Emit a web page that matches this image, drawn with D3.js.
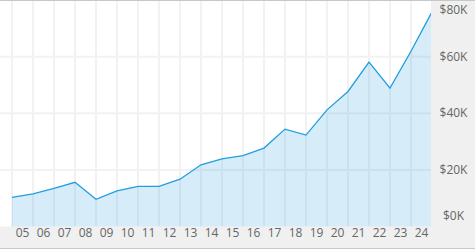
<!DOCTYPE html>
<html>
<head>
<meta charset="utf-8">
<script src="https://cdn.jsdelivr.net/npm/d3@7"></script>
<style>
  body { margin: 0; background: #fff; }
  text { font-family: "Open Sans", "Noto Sans", sans-serif; }
</style>
</head>
<body>
<svg id="chart"></svg>
<script>
// one point per year boundary, 2005 .. 2025
const years = [2005, 2006, 2007, 2008, 2009, 2010, 2011, 2012, 2013, 2014, 2015,
    2016, 2017, 2018, 2019, 2020, 2021, 2022, 2023, 2024, 2025];
const values = [10300, 11500, 13500, 15600, 9600, 12600, 14200, 14200, 16700, 21800, 23900,
    25000, 27700, 34400, 32300, 41200, 47700, 58100, 48900, 61900, 75800];
const xLabels = ["05", "06", "07", "08", "09", "10", "11", "12", "13", "14",
    "15", "16", "17", "18", "19", "20", "21", "22", "23", "24"];
const yTicks = [0, 20000, 40000, 60000, 80000];

const W = 475, H = 250;
const plotRight = 431, plotBottom = 226.5;

const svg = d3.select("#chart")
    .attr("width", W)
    .attr("height", H);

const x = d3.scaleLinear()
    .domain([2005, 2025])
    .range([12, 432]);

const y = d3.scaleLinear()
    .domain([0, 80000])
    .range([plotBottom, 0]);

// backgrounds
svg.append("rect")
    .attr("x", 0).attr("y", 0)
    .attr("width", W).attr("height", 249)
    .attr("fill", "#f0f0f0");
svg.append("rect")
    .attr("x", 0).attr("y", 0)
    .attr("width", plotRight).attr("height", plotBottom)
    .attr("fill", "#fff");

// grid
const grid = svg.append("g").attr("stroke", "#f2f2f2").attr("stroke-width", 2);
grid.selectAll("line.v")
    .data(years.slice(0, -1))
    .enter().append("line")
    .attr("class", "v")
    .attr("x1", d => x(d)).attr("x2", d => x(d))
    .attr("y1", 0).attr("y2", plotBottom);
grid.selectAll("line.h")
    .data(yTicks.slice(1, -1))
    .enter().append("line")
    .attr("class", "h")
    .attr("x1", 0).attr("x2", plotRight)
    .attr("y1", d => y(d)).attr("y2", d => y(d));

const data = years.map((yr, i) => ({ year: yr, value: values[i] }));

// area + line
svg.append("path")
    .datum(data)
    .attr("fill", "rgba(51,163,226,0.2)")
    .attr("d", d3.area()
        .x(d => x(d.year))
        .y0(plotBottom)
        .y1(d => y(d.value)));

svg.append("path")
    .datum(data)
    .attr("fill", "none")
    .attr("stroke", "#229de0")
    .attr("stroke-width", 1.3)
    .attr("d", d3.line()
        .x(d => x(d.year))
        .y(d => y(d.value)));

// cover anything past the plot's right edge
svg.append("rect")
    .attr("x", plotRight).attr("y", 0)
    .attr("width", W - plotRight).attr("height", 249)
    .attr("fill", "#f0f0f0");

// top border and bottom line
svg.append("line")
    .attr("x1", 0).attr("x2", W)
    .attr("y1", 0.5).attr("y2", 0.5)
    .attr("stroke", "#c8c8c8");
svg.append("line")
    .attr("x1", 0).attr("x2", W)
    .attr("y1", 248.5).attr("y2", 248.5)
    .attr("stroke", "#c8c8c8");

// x labels, centered in each year band
svg.append("g")
    .selectAll("text")
    .data(xLabels)
    .enter().append("text")
    .attr("x", (d, i) => x(years[i] + 0.5))
    .attr("y", 233)
    .attr("dy", "0.35em")
    .attr("text-anchor", "middle")
    .attr("font-size", 12)
    .attr("fill", "#666")
    .text(d => d);

// y labels on the right, kept inside the picture at top and bottom
svg.append("g")
    .selectAll("text")
    .data(yTicks)
    .enter().append("text")
    .attr("x", 453.5)
    .attr("y", d => Math.min(Math.max(y(d), 10), 216))
    .attr("dy", "0.35em")
    .attr("text-anchor", "middle")
    .attr("font-size", 12)
    .attr("fill", "#666")
    .text(d => "$" + d3.format("d")(d / 1000) + "K");
</script>
</body>
</html>
